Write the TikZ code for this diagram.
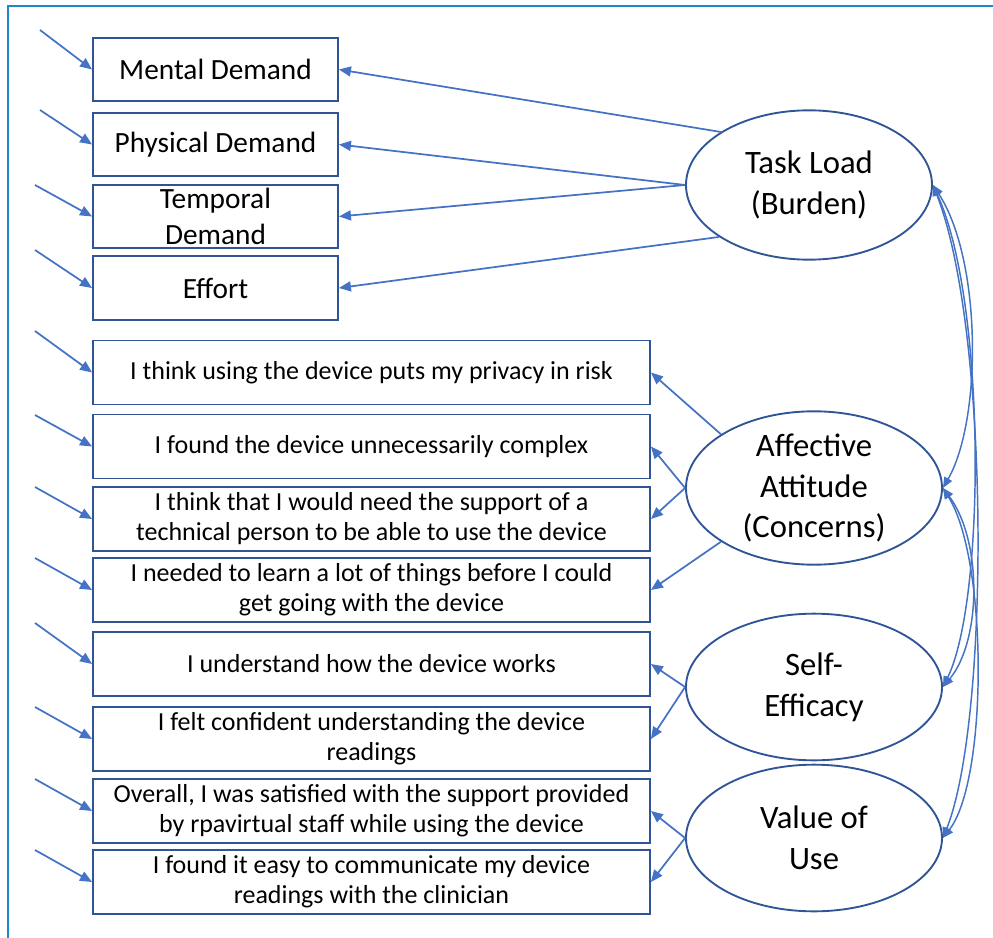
\documentclass[tikz,border=0pt]{standalone}
\usepackage{fontspec}
\setmainfont{Carlito}
\usetikzlibrary{arrows.meta,shapes.geometric}
\definecolor{frameblue}{RGB}{30,136,200}
\definecolor{boxblue}{RGB}{47,85,151}
\definecolor{arrblue}{RGB}{68,114,196}
\tikzset{
  itembox/.style={draw=boxblue,line width=1.4pt,rectangle,inner sep=0pt,align=center,text=black},
  smallbox/.style={itembox,minimum width=183.75pt,minimum height=47.5pt,font=\fontsize{22}{26.5}\selectfont},
  widebox/.style={itembox,minimum width=417.75pt,minimum height=48pt,font=\fontsize{19.5}{22.5}\selectfont},
  latent/.style={draw=boxblue,line width=1.4pt,ellipse,inner sep=0pt,align=center,text=black,font=\fontsize{24.5}{30.5}\selectfont},
  arr/.style={draw=arrblue,line width=1.3pt,-{Triangle[length=9pt,width=7.5pt]}},
  cov/.style={draw=arrblue,line width=1.1pt,{Triangle[length=8pt,width=6.5pt]}-{Triangle[length=8pt,width=6.5pt]}}
}
\begin{document}
\begin{tikzpicture}[x=0.75pt,y=-0.75pt]
\useasboundingbox (0,0) rectangle (993,938);
\begin{scope}
\clip (0,0) rectangle (993,938);
\draw[frameblue,line width=2.2pt] (8,6) rectangle (1010,960);
\end{scope}

% observed items
\node[smallbox] (md) at (215.5,69.5) {Mental Demand};
\node[smallbox] (pd) at (215.5,144.5) {Physical Demand};
\node[smallbox] (td) at (215.5,216.5) {Temporal\\Demand};
\node[smallbox] (ef) at (215.5,288) {Effort};
\node[widebox] (pr) at (371.5,372.5) {I think using the device puts my privacy in risk};
\node[widebox] (cx) at (371.5,446.5) {I found the device unnecessarily complex};
\node[widebox] (tp) at (371.5,519) {I think that I would need the support of a\\technical person to be able to use the device};
\node[widebox] (ln) at (371.5,590) {I needed to learn a lot of things before I could\\get going with the device};
\node[widebox] (un) at (371.5,664) {I understand how the device works};
\node[widebox] (cf) at (371.5,739) {I felt confident understanding the device\\readings};
\node[widebox] (ov) at (371.5,811) {Overall, I was satisfied with the support provided\\by rpavirtual staff while using the device};
\node[widebox] (cm) at (371.5,882) {I found it easy to communicate my device\\readings with the clinician};

% latent variables
\node[latent,minimum width=184.5pt,minimum height=112pt] (tl) at (809,185) {Task Load\\(Burden)};
\node[latent,minimum width=192pt,minimum height=110pt] (aa) at (814,488) {Affective\\Attitude\\(Concerns)};
\node[latent,minimum width=192pt,minimum height=110pt] (se) at (814,687) {Self-\\Efficacy};
\node[latent,minimum width=192pt,minimum height=110pt] (vu) at (814,838) {Value of\\Use};

% error terms
\coordinate (e1) at (40,30);
\coordinate (e2) at (40,110);
\coordinate (e3) at (35,185);
\coordinate (e4) at (35,250);
\coordinate (e5) at (35,331);
\coordinate (e6) at (35,415);
\coordinate (e7) at (35,487);
\coordinate (e8) at (35,558);
\coordinate (e9) at (35,623);
\coordinate (e10) at (35,707);
\coordinate (e11) at (35,779);
\coordinate (e12) at (35,850);
\draw[arr] (e1) -- (md.west);
\draw[arr] (e2) -- (pd.west);
\draw[arr] (e3) -- (td.west);
\draw[arr] (e4) -- (ef.west);
\draw[arr] (e5) -- (pr.west);
\draw[arr] (e6) -- (cx.west);
\draw[arr] (e7) -- (tp.west);
\draw[arr] (e8) -- (ln.west);
\draw[arr] (e9) -- (un.west);
\draw[arr] (e10) -- (cf.west);
\draw[arr] (e11) -- (ov.west);
\draw[arr] (e12) -- (cm.west);

% loadings
\draw[arr] (tl.149) -- (md.east);
\draw[arr] (tl.west) -- (pd.east);
\draw[arr] (tl.west) -- (td.east);
\draw[arr] (tl.210) -- (ef.east);
\draw[arr] (aa.150) -- (pr.east);
\draw[arr] (aa.west) -- (cx.east);
\draw[arr] (aa.west) -- (tp.east);
\draw[arr] (aa.210) -- (ln.east);
\draw[arr] (se.west) -- (un.east);
\draw[arr] (se.west) -- (cf.east);
\draw[arr] (vu.west) -- (ov.east);
\draw[arr] (vu.west) -- (cm.east);

% covariances
\draw[cov] (tl.east) .. controls (982,260) and (982,420) .. (aa.east);
\draw[cov] (tl.east) .. controls (986,300) and (986,600) .. (se.east);
\draw[cov] (tl.east) .. controls (990,330) and (990,720) .. (vu.east);
\draw[cov] (aa.east) .. controls (982,540) and (982,640) .. (se.east);
\draw[cov] (aa.east) .. controls (988,560) and (988,780) .. (vu.east);
\end{tikzpicture}
\end{document}
